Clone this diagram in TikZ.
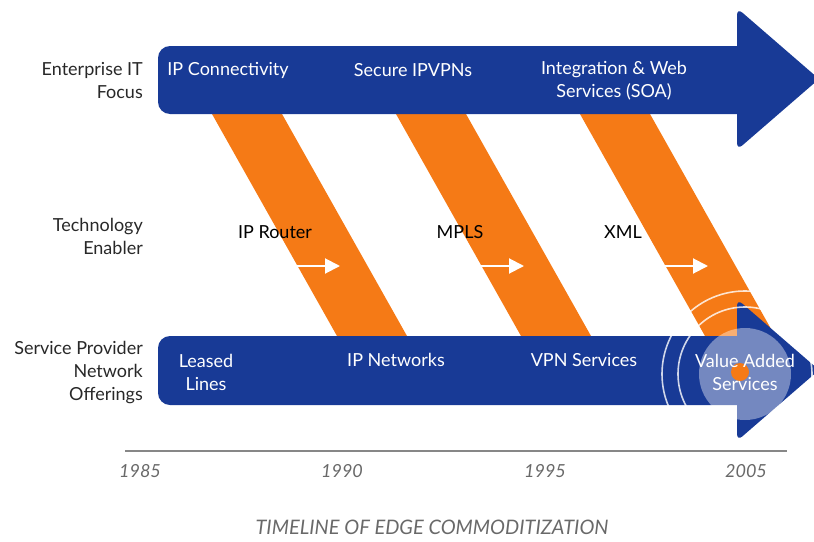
\documentclass[tikz,border=0pt]{standalone}
\usepackage{fontspec}
\setmainfont{Lato}
\usetikzlibrary{arrows.meta}

\definecolor{arrowblue}{RGB}{24,58,150}
\definecolor{bandorange}{RGB}{245,122,22}
\definecolor{labelgray}{RGB}{40,40,40}
\definecolor{yeargray}{RGB}{105,105,105}

\tikzset{
  rowlabel/.style={anchor=east, align=right, inner sep=0pt, text=labelgray, font=\fontsize{18}{23}\selectfont},
  onblue/.style={align=center, inner sep=0pt, text=white, font=\fontsize{18}{23}\selectfont},
  techlabel/.style={inner sep=0pt, text=black, font=\fontsize{18}{23}\selectfont},
  yearlabel/.style={inner sep=0pt, text=yeargray, font=\itshape\fontsize{18}{20}\selectfont},
  pusharrow/.style={white, line width=2pt, -{Triangle[length=15pt,width=15pt]}},
  timeline/.style={draw=yeargray!80, line width=1.5pt}
}

\begin{document}
\begin{tikzpicture}[x=1pt,y=-1pt]
\useasboundingbox (0,0) rectangle (814,541);

% orange bands
\foreach \i in {0,1,2}{
  \fill[bandorange] ({212+184*\i},114) -- ({282+184*\i},114) -- ({407+184*\i},336) -- ({337+184*\i},336) -- cycle;
}

% enterprise arrow
\fill[arrowblue, rounded corners=12] (740,46) -- (158,46) -- (158,114) -- (740,114);
\fill[arrowblue, rounded corners=7] (737,80) -- (737,8) -- (819,79) -- (737,150) -- cycle;

% provider arrow
\fill[arrowblue, rounded corners=12] (740,336) -- (158,336) -- (158,405) -- (740,405);
\fill[arrowblue, rounded corners=7] (737,370) -- (737,299) -- (819,370) -- (737,441) -- cycle;

% rings
\coordinate (ring) at (745,374);
\draw[white, line width=1.6pt, opacity=0.8] (ring) circle (67);
\draw[white, line width=1.6pt, opacity=0.8] (ring) circle (83);
\fill[white, opacity=0.4] (ring) circle (46);
\fill[bandorange] (740,372) circle (9);

% push arrows
\foreach \i in {0,1,2}{
  \coordinate (push\i a) at ({297+184*\i},266);
  \coordinate (push\i b) at ({340+184*\i},266);
  \draw[pusharrow] (push\i a) -- (push\i b);
}

% row labels
\node[rowlabel] (enterprise) at (143,81) {Enterprise IT\\Focus};
\node[rowlabel] (technology) at (143,236) {Technology\\Enabler};
\node[rowlabel] (provider) at (143,373) {Service Provider\\Network\\Offerings};

% enterprise focus
\node[onblue] (connectivity) at (228,70) {IP Connectivity};
\node[onblue] (secure) at (413,70) {Secure IPVPNs};
\node[onblue] (integration) at (614,81) {Integration \& Web\\Services (SOA)};

% enablers
\node[techlabel] (iprouter) at (275,232) {IP Router};
\node[techlabel] (mpls) at (460,232) {MPLS};
\node[techlabel] (xml) at (623,232) {XML};

% offerings
\node[onblue] (leased) at (206,372) {Leased\\Lines};
\node[onblue] (ipnet) at (396,360) {IP Networks};
\node[onblue] (vpn) at (584,360) {VPN Services};
\node[onblue] (valueadded) at (745,372) {Value Added\\Services};

% timeline
\coordinate (tlstart) at (125,451);
\coordinate (tlend) at (787,451);
\draw[timeline] (tlstart) -- (tlend);
\node[yearlabel] (y1985) at (140,471) {1985};
\node[yearlabel] (y1990) at (342,471) {1990};
\node[yearlabel] (y1995) at (545,471) {1995};
\node[yearlabel] (y2005) at (746,471) {2005};
\node[yearlabel, font=\itshape\fontsize{20}{22}\selectfont] (title) at (432,527) {TIMELINE OF EDGE COMMODITIZATION};
\end{tikzpicture}
\end{document}
